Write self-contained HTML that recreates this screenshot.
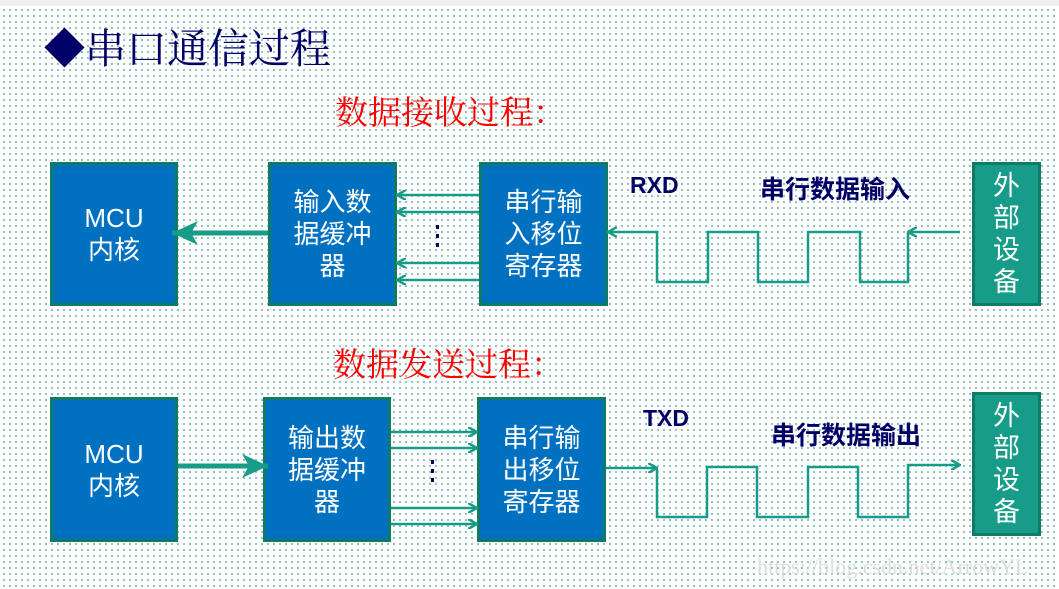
<!DOCTYPE html>
<html><head><meta charset="utf-8"><style>
body{margin:0;width:1059px;height:589px;overflow:hidden;position:relative;font-family:"Liberation Sans","Noto Sans CJK SC",sans-serif;
background-color:#fff;background-image:radial-gradient(circle,#2f9280 0.7px,transparent 0.9px);background-size:6px 6px;background-position:1px 1px}
.t{position:absolute;white-space:nowrap}
.b{position:absolute;box-sizing:border-box;background:#0070c0;border:3px solid #0f7a66;color:#fff;display:flex;align-items:center;justify-content:center;text-align:center;font-size:26px;line-height:32px}
.e{background:#169c88;font-size:27px;line-height:32px}
</style></head><body>
<div style="position:absolute;left:0;top:0;width:1059px;height:6px;background:#eee"></div>
<div class="t" style="left:44px;top:16px;font-family:'Liberation Serif','Noto Serif CJK SC',serif;font-size:41px;color:#000066">◆串口通信过程</div>
<div class="t" style="left:335px;top:87px;font-family:'Liberation Serif','Noto Serif CJK SC',serif;font-size:33px;color:#f00">数据接收过程：</div>
<div class="t" style="left:333px;top:339px;font-family:'Liberation Serif','Noto Serif CJK SC',serif;font-size:33px;color:#f00">数据发送过程：</div>

<div class="b" style="left:50px;top:162px;width:128px;height:144px;font-size:26px">MCU<br>内核</div>
<div class="b" style="left:268px;top:162px;width:129px;height:144px">输入数<br>据缓冲<br>器</div>
<div class="b" style="left:479px;top:162px;width:129px;height:144px">串行输<br>入移位<br>寄存器</div>
<div class="b e" style="left:972px;top:162px;width:69px;height:144px">外<br>部<br>设<br>备</div>

<div class="b" style="left:50px;top:397px;width:128px;height:145px;font-size:26px">MCU<br>内核</div>
<div class="b" style="left:263px;top:397px;width:128px;height:145px">输出数<br>据缓冲<br>器</div>
<div class="b" style="left:477px;top:397px;width:129px;height:145px">串行输<br>出移位<br>寄存器</div>
<div class="b e" style="left:972px;top:392px;width:69px;height:144px">外<br>部<br>设<br>备</div>

<div class="t" style="left:630px;top:172px;font-weight:bold;font-size:23px;color:#000066">RXD</div>
<div class="t" style="left:760px;top:170px;font-size:25px;color:#000066;font-weight:bold">串行数据输入</div>
<div class="t" style="left:643px;top:405px;font-weight:bold;font-size:23px;color:#000066">TXD</div>
<div class="t" style="left:771px;top:416px;font-size:25px;color:#000066;font-weight:bold">串行数据输出</div>
<div class="t" style="left:757px;top:554px;font-family:'Liberation Serif',serif;font-size:22px;color:#ddd">https://blog.csdn.net/ArrowYL</div>

<svg width="1059" height="589" style="position:absolute;left:0;top:0">
<defs>
<marker id="a" markerWidth="10" markerHeight="10" refX="9" refY="5" orient="auto" markerUnits="userSpaceOnUse"><path d="M0,0 L9,5 L0,10" fill="none" stroke="#169c88" stroke-width="2.5"/></marker>
<marker id="A" markerWidth="30" markerHeight="26" refX="28" refY="13" orient="auto" markerUnits="userSpaceOnUse"><path d="M2,1 L28,13 L2,25 L9,13Z" fill="#169c88"/></marker>
</defs>
<g stroke="#169c88" stroke-width="2.5" fill="none">
<line x1="479" y1="195" x2="397" y2="195" marker-end="url(#a)"/>
<line x1="479" y1="212" x2="397" y2="212" marker-end="url(#a)"/>
<line x1="479" y1="263" x2="397" y2="263" marker-end="url(#a)"/>
<line x1="479" y1="280" x2="397" y2="280" marker-end="url(#a)"/>
<line x1="391" y1="432" x2="477" y2="432" marker-end="url(#a)"/>
<line x1="391" y1="448" x2="477" y2="448" marker-end="url(#a)"/>
<line x1="391" y1="508" x2="477" y2="508" marker-end="url(#a)"/>
<line x1="391" y1="524" x2="477" y2="524" marker-end="url(#a)"/>
<line x1="268" y1="233" x2="172" y2="233" stroke-width="5" marker-end="url(#A)"/>
<line x1="178" y1="466" x2="268" y2="466" stroke-width="5" marker-end="url(#A)"/>
<line x1="960" y1="232" x2="908" y2="232" marker-end="url(#a)"/>
<polyline points="908,232 908,282 860,282 860,232 808,232 808,282 758,282 758,232 708,232 708,282 657,282 657,232 608,232" marker-end="url(#a)"/>
<line x1="606" y1="468" x2="657" y2="468" marker-end="url(#a)"/>
<polyline points="657,468 657,517 707,517 707,467 757,467 757,517 808,517 808,467 858,467 858,517 908,517 908,465 960,465" marker-end="url(#a)"/>
</g>
<g fill="#000066"><rect x="436" y="225" width="3" height="4"/><rect x="436" y="234" width="3" height="4"/><rect x="436" y="243" width="3" height="4"/>
<rect x="431" y="460" width="3" height="4"/><rect x="431" y="469" width="3" height="4"/><rect x="431" y="478" width="3" height="4"/></g>
</svg>
</body></html>
